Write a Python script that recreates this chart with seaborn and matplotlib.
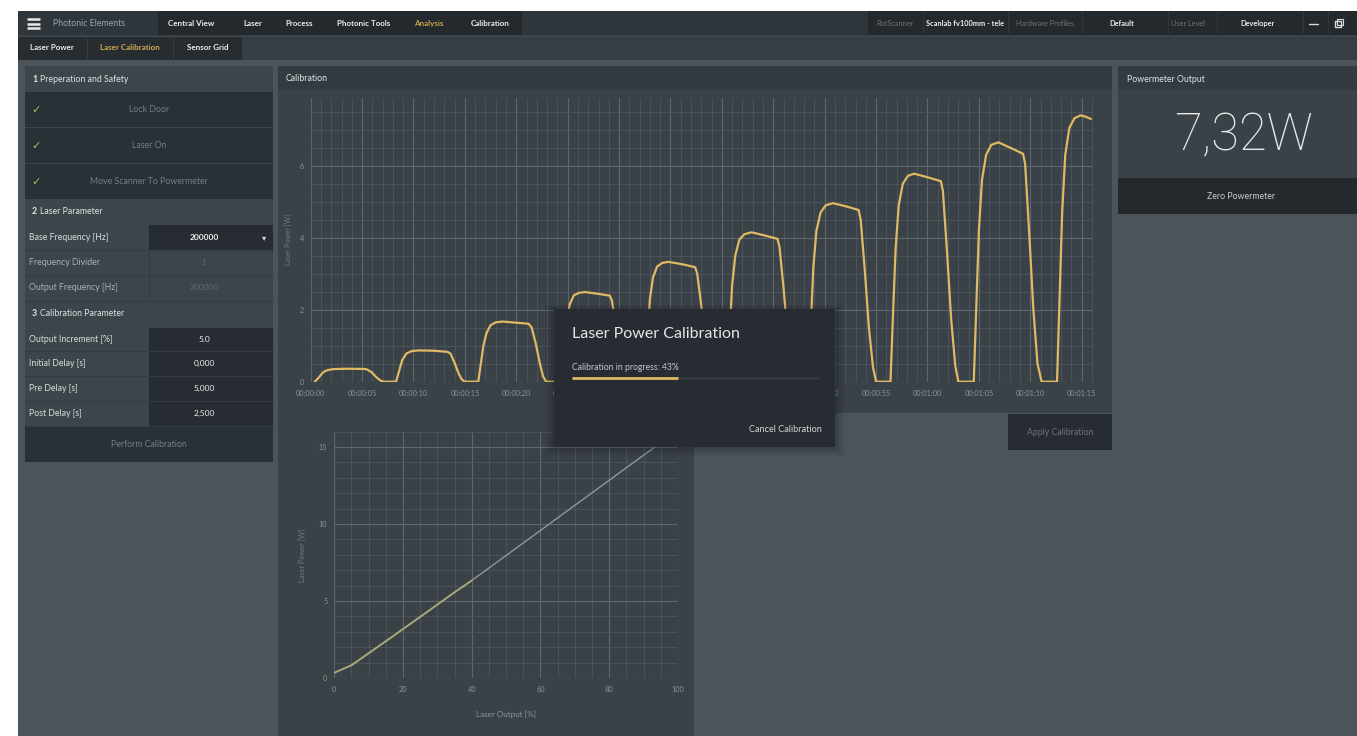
import matplotlib
matplotlib.use("Agg")
import matplotlib.pyplot as plt
import seaborn as sns
import pandas as pd
from matplotlib.patches import Rectangle
from matplotlib.ticker import MultipleLocator, FuncFormatter

# ---- data: powermeter trace during calibration (s, W) ----
pulse_time = [
    0.4, 0.8, 1.2, 1.6, 2.2, 3.5, 5.0, 5.4, 5.9, 6.4, 6.8, 7.1,
    8.3, 8.6, 8.9, 9.3, 9.8, 10.5, 12.0, 13.3, 13.6, 14.0, 14.4, 14.7, 15.0,
    16.3, 16.55, 16.8, 17.1, 17.5, 18.0, 18.7, 20.0, 21.2, 21.5, 21.9, 22.3, 22.6, 22.9,
    24.4, 24.65, 24.9, 25.2, 25.6, 26.1, 26.7, 28.0, 29.1, 29.3, 29.7, 30.1, 30.5, 30.8,
    32.5, 32.75, 33.0, 33.3, 33.7, 34.2, 34.8, 36.2, 37.4, 37.6, 38.0, 38.4, 38.8, 39.1,
    40.5, 40.75, 41.0, 41.3, 41.7, 42.2, 42.9, 44.2, 45.4, 45.6, 46.0, 46.4, 46.8, 47.1,
    48.4, 48.65, 48.9, 49.2, 49.6, 50.1, 50.8, 52.1, 53.3, 53.5, 53.9, 54.3, 54.7, 55.0,
    56.4, 56.65, 56.9, 57.2, 57.6, 58.1, 58.7, 60.0, 61.3, 61.5, 61.9, 62.3, 62.7, 63.0,
    64.5, 64.75, 65.0, 65.3, 65.7, 66.2, 66.9, 68.2, 69.3, 69.5, 69.9, 70.3, 70.7, 71.1,
    72.6, 72.85, 73.1, 73.4, 73.8, 74.3, 74.9, 75.4, 75.9,
]
pulse_power = [
    0.00, 0.12, 0.26, 0.32, 0.35, 0.36, 0.355, 0.35, 0.27, 0.12, 0.03, 0.00,
    0.00, 0.30, 0.60, 0.78, 0.85, 0.87, 0.86, 0.83, 0.78, 0.52, 0.22, 0.06, 0.00,
    0.00, 0.50, 1.00, 1.35, 1.57, 1.65, 1.67, 1.64, 1.61, 1.50, 1.05, 0.50, 0.15, 0.00,
    0.00, 0.85, 1.70, 2.15, 2.40, 2.47, 2.49, 2.44, 2.39, 2.25, 1.55, 0.75, 0.20, 0.00,
    0.00, 1.20, 2.30, 2.90, 3.20, 3.30, 3.33, 3.26, 3.18, 3.00, 2.10, 1.00, 0.30, 0.00,
    0.00, 1.40, 2.70, 3.50, 3.95, 4.10, 4.15, 4.06, 3.97, 3.75, 2.60, 1.25, 0.35, 0.00,
    0.00, 1.60, 3.20, 4.20, 4.70, 4.90, 4.96, 4.87, 4.77, 4.50, 3.10, 1.50, 0.40, 0.00,
    0.00, 1.90, 3.70, 4.90, 5.50, 5.72, 5.78, 5.68, 5.57, 5.30, 3.60, 1.75, 0.45, 0.00,
    0.00, 2.10, 4.20, 5.60, 6.30, 6.58, 6.65, 6.48, 6.33, 6.05, 4.10, 2.00, 0.50, 0.00,
    0.00, 2.40, 4.70, 6.30, 7.05, 7.32, 7.40, 7.36, 7.30,
]

# ---- data: calibration curve ----
measured_output = [0, 5, 10, 15, 20, 25, 30, 35, 40]
measured_power = [0.34, 0.83, 1.61, 2.39, 3.18, 3.97, 4.77, 5.57, 6.33]
fit_output = [40, 100]
fit_power = [6.33, 16.1]

power_reading = "7,32W"
progress = 43

nav_items = ["Central View", "Laser", "Process", "Photonic Tools", "Analysis", "Calibration"]
nav_x = [191, 253, 299, 364, 429, 490]
tabs = ["Laser Power", "Laser Calibration", "Sensor Grid"]
tab_x = [52, 130, 208]
right_items = [("RotScanner", 895, False), ("Scanlab fv100mm - tele", 965, True),
               ("Hardware Profiles", 1045, False), ("Default", 1122, True),
               ("User Level", 1188, False), ("Developer", 1258, True)]

sections = [("1", "Preperation and Safety", 66, 92),
            ("2", "Laser Parameter", 199, 224),
            ("3", "Calibration Parameter", 301, 327)]
safety_steps = [("Lock Door", 92, 127), ("Laser On", 128, 163),
                ("Move Scanner To Powermeter", 164, 199)]
params = [("Base Frequency [Hz]", "200000", "dropdown", 224, 250),
          ("Frequency Divider", "1", "disabled", 250, 275),
          ("Output Frequency [Hz]", "200000", "disabled", 275, 301),
          ("Output Increment [%]", "5.0", "edit", 327, 351),
          ("Initial Delay [s]", "0,000", "edit", 351, 376),
          ("Pre Delay [s]", "5,000", "edit", 376, 401),
          ("Post Delay [s]", "2,500", "edit", 401, 426)]

# ---- colours ----
MAIN_BG = "#4a545a"
PANEL = "#3a4247"
PANEL_HEAD = "#333b40"
DARK = "#262c31"
BTN = "#2a3136"
GOLD = "#dfb964"
TXT = "#e4e7e9"
FAINT = "#737d83"
TICK = "#8a949a"

W, H = 1357, 736

sns.set_style("dark")
plt.rcParams["font.family"] = ["Lato", "DejaVu Sans"]

fig = plt.figure(figsize=(W / 100, H / 100), dpi=100)
fig.patch.set_facecolor("white")


def px_axes(x0, y0, x1, y1, z=0):
    return fig.add_axes([x0 / W, 1 - y1 / H, (x1 - x0) / W, (y1 - y0) / H], zorder=z)


def canvas(z):
    a = fig.add_axes([0, 0, 1, 1], zorder=z)
    a.set_xlim(0, W)
    a.set_ylim(H, 0)
    a.axis("off")
    a.patch.set_alpha(0)
    return a


def box(ax, x0, y0, x1, y1, color, **kw):
    ax.add_patch(Rectangle((x0, y0), x1 - x0, y1 - y0, facecolor=color,
                           edgecolor="none", **kw))


def label(ax, x, y, s, size=6.3, color=TXT, ha="left", weight="normal", **kw):
    ax.text(x, y, s, fontsize=size, color=color, ha=ha, va="center",
            fontweight=weight, **kw)


ui = canvas(-1)

# window frame
box(ui, 18, 11, W, H, MAIN_BG)

# top nav bar
box(ui, 18, 11, W, 35, "#2f363b")
box(ui, 158, 11, 522, 35, "#23292d")
box(ui, 868, 11, W, 35, "#23292d")
for yy in (19.3, 23.5, 27.7):
    ui.plot([27, 40], [yy, yy], color="#e8eaeb", lw=1.8, solid_capstyle="butt")
label(ui, 53, 23.5, "Photonic Elements", size=6.3, color="#9aa3a8")
for name, x in zip(nav_items, nav_x):
    label(ui, x, 23.5, name, size=5.8, ha="center", weight="bold",
          color="#c9a24e" if name == "Analysis" else "#eceeef")
for name, x, strong in right_items:
    label(ui, x, 23.5, name, size=5.3, ha="center",
          weight="bold" if strong else "normal",
          color="#eceeef" if strong else "#6c767c")
for x in (923, 1008, 1082, 1168, 1217, 1303, 1328):
    ui.plot([x, x], [11, 35], color="#30373c", lw=0.8)
ui.plot([1309, 1318], [23.5, 23.5], color="#d8dcde", lw=1.0)
ui.add_patch(Rectangle((1335, 20.5), 6, 6, fill=False, edgecolor="#d8dcde", lw=1.0))
ui.add_patch(Rectangle((1337, 18.5), 6, 6, fill=False, edgecolor="#d8dcde", lw=0.8))

# second bar (tabs)
box(ui, 18, 35, W, 60, "#363e43")
ui.plot([18, W], [35.5, 35.5], color="#434b50", lw=0.8)
box(ui, 18, 36, 242, 60, "#262c30")
for x in (87, 173):
    ui.plot([x, x], [36, 60], color="#353c41", lw=0.8)
for name, x in zip(tabs, tab_x):
    label(ui, x, 48, name, size=5.8, ha="center", weight="bold",
          color="#d2aa55" if name == "Laser Calibration" else "#eceeef")

# ---- left panel ----
box(ui, 25, 66, 273, 462, "#3c454a")
for num, title, y0, y1 in sections:
    label(ui, 32, (y0 + y1) / 2, num, size=6.3, weight="bold")
    label(ui, 39.5, (y0 + y1) / 2, title, size=6.3, color="#dfe2e4")
for name, y0, y1 in safety_steps:
    box(ui, 25, y0, 273, y1, BTN)
    ui.text(36, (y0 + y1) / 2, "\u2713", fontsize=8, color="#a3c45e",
            ha="center", va="center", family=["DejaVu Sans"])
    label(ui, 149, (y0 + y1) / 2, name, size=6.3, ha="center", color=FAINT)
for name, value, kind, y0, y1 in params:
    yc = (y0 + y1) / 2
    ui.plot([25, 273], [y1, y1], color="#353d42", lw=0.8)
    if kind == "disabled":
        label(ui, 29, yc, name, size=6.3, color="#a9b0b4")
        ui.plot([149, 149], [y0, y1], color="#353d42", lw=0.8)
        label(ui, 204, yc, value, size=6.0, ha="center", color="#5f696e")
    else:
        label(ui, 29, yc, name, size=6.3, color="#d8dcde")
        box(ui, 149, y0 + 0.5, 273, y1 - 0.5, DARK)
        label(ui, 204, yc, value, size=6.0, ha="center", color="#eceeef",
              weight="bold" if kind == "dropdown" else "normal")
        if kind == "dropdown":
            ui.text(264, yc + 1, "\u25be", fontsize=6, color="#d8dcde",
                    ha="center", va="center", family=["DejaVu Sans"])
box(ui, 25, 427, 273, 462, BTN)
label(ui, 149, 444.5, "Perform Calibration", size=6.3, ha="center", color=FAINT)

# ---- calibration panels ----
box(ui, 278, 66, 1112, 413, PANEL)
box(ui, 278, 66, 1112, 90, PANEL_HEAD)
label(ui, 286, 78.5, "Calibration", size=6.3)
box(ui, 278, 413, 693.6, H, PANEL)
box(ui, 1007.5, 414, 1112, 450, DARK)
label(ui, 1060, 432.5, "Apply Calibration", size=6.3, ha="center", color="#6a7479")

# ---- powermeter panel ----
box(ui, 1118, 66, W, 214, PANEL)
box(ui, 1118, 66, W, 90, PANEL_HEAD)
label(ui, 1127, 79, "Powermeter Output", size=6.3, color="#dfe3e6")
label(ui, 1243, 136, power_reading, size=36.5, ha="center", color="#e8ebed",
      weight="light", family=["Roboto", "Lato", "DejaVu Sans"])
box(ui, 1118, 178, W, 214, "#23292d")
label(ui, 1241, 196.5, "Zero Powermeter", size=6.3, ha="center", color="#c8cdd0")

# ---- run trace chart ----
trace = pd.DataFrame({"time": pulse_time, "power": pulse_power})
ax1 = px_axes(310.7, 97.7, 1093, 381.7, z=1)
ax1.set_facecolor("none")
sns.lineplot(data=trace, x="time", y="power", ax=ax1, color=GOLD, lw=1.6,
             sort=False, estimator=None)
ax1.set_xlim(0, 76.1)
ax1.set_ylim(0, 7.89)
ax1.xaxis.set_major_locator(MultipleLocator(5))
ax1.xaxis.set_minor_locator(MultipleLocator(1))
ax1.yaxis.set_major_locator(MultipleLocator(2))
ax1.yaxis.set_minor_locator(MultipleLocator(0.5))
ax1.xaxis.set_major_formatter(
    FuncFormatter(lambda v, _: f"00:{int(round(v)) // 60:02d}:{int(round(v)) % 60:02d}"))
ax1.set_xlabel("")
ax1.set_ylabel("Laser Power [W]", fontsize=5, color="#6f797e", labelpad=5)

# ---- calibration curve chart ----
measured = pd.DataFrame({"output": measured_output, "power": measured_power})
fit = pd.DataFrame({"output": fit_output, "power": fit_power})
ax2 = px_axes(334.3, 431.7, 677.9, 678, z=1)
ax2.set_facecolor("none")
sns.lineplot(data=fit, x="output", y="power", ax=ax2, color="#8f989d", lw=1.0)
sns.lineplot(data=measured, x="output", y="power", ax=ax2, color="#a8a878", lw=1.4)
ax2.set_xlim(0, 100)
ax2.set_ylim(0, 16)
ax2.xaxis.set_major_locator(MultipleLocator(20))
ax2.xaxis.set_minor_locator(MultipleLocator(5))
ax2.yaxis.set_major_locator(MultipleLocator(5))
ax2.yaxis.set_minor_locator(MultipleLocator(1))
ax2.set_xlabel("Laser Output [%]", fontsize=5.8, color="#8a949a", labelpad=12)
ax2.set_ylabel("Laser Power [W]", fontsize=5.3, color="#6f797e", labelpad=9)

for ax in (ax1, ax2):
    for s in ax.spines.values():
        s.set_visible(False)
    ax.grid(which="major", color="#5d676d", lw=0.8)
    ax.grid(which="minor", color="#4d575d", lw=0.6)
    ax.tick_params(which="both", length=0, labelsize=5.3, labelcolor=TICK)
    ax.tick_params(axis="x", pad=6)
    ax.tick_params(axis="y", pad=5)
    ax.set_axisbelow(True)

# ---- progress dialog ----
ov = canvas(5)
for grow, alpha in ((9, 0.05), (6, 0.07), (3, 0.1)):
    box(ov, 553.6 - grow, 309.3 - grow / 2, 835 + grow, 446.7 + grow, "black", alpha=alpha)
box(ov, 553.6, 309.3, 835, 446.7, DARK)
label(ov, 572, 334, "Laser Power Calibration", size=11.5, color="#e3e6e8")
label(ov, 572, 367.5, f"Calibration in progress: {progress}%", size=6.2, color="#c3c8cb")
bar_x0, bar_x1 = 572, 818
ov.plot([bar_x0, bar_x1], [378, 378], color="#3a4247", lw=1.0)
ov.plot([bar_x0, bar_x0 + (bar_x1 - bar_x0) * progress / 100], [378, 378],
        color=GOLD, lw=2.0, solid_capstyle="butt")
label(ov, 822, 430, "Cancel Calibration", size=6.6, ha="right", color="#d2d6d8")

fig.savefig("out.png", dpi=100)
